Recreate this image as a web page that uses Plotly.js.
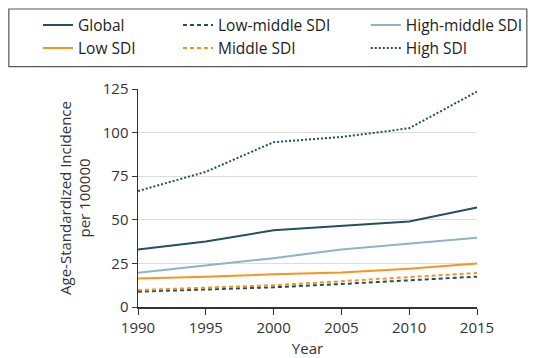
<!DOCTYPE html>
<html><head><meta charset="utf-8">
<script src="https://cdn.plot.ly/plotly-3.0.1.min.js"></script>
<style>html,body{margin:0;padding:0;background:#fff}#chart{width:537px;height:358px}</style>
</head><body><div id="chart"></div>
<script>
const years = [1990, 1995, 2000, 2005, 2010, 2015];
const seriesNames = ["Global", "Low SDI", "Low-middle SDI", "Middle SDI", "High-middle SDI", "High SDI"];
const globalVals = [33, 37.5, 44, 46.5, 49, 57];
const lowSDI = [16.4, 17.3, 18.8, 19.8, 22, 25];
const lowMiddleSDI = [8.8, 10, 11.3, 13.2, 15.5, 17.4];
const middleSDI = [9.7, 11, 12.5, 14.8, 17, 19.5];
const highMiddleSDI = [19.7, 23.7, 28, 33, 36.5, 39.7];
const highSDI = [66.5, 77.5, 94.5, 97.5, 102.5, 123.5];
const yTicks = [0, 25, 50, 75, 100, 125];

const dark = "#24505e", orange = "#f7941d", light = "#8fb3c2";
function tr(name, y, color, dash, legend) {
  return {x: years, y: y, name: name, type: "scatter", mode: "lines",
    line: {color: color, width: 2, dash: dash}, legend: legend};
}
const data = [
  tr(seriesNames[0], globalVals, dark, "solid", "legend"),
  tr(seriesNames[1], lowSDI, orange, "solid", "legend"),
  tr(seriesNames[2], lowMiddleSDI, dark, "4px,3px", "legend2"),
  tr(seriesNames[3], middleSDI, orange, "4px,3px", "legend2"),
  tr(seriesNames[4], highMiddleSDI, light, "solid", "legend3"),
  tr(seriesNames[5], highSDI, dark, "2px,2px", "legend3")
];
const font = {family: "Open Sans, Noto Sans, sans-serif", size: 14, color: "#333"};
const legBase = {orientation: "v", yanchor: "top", xanchor: "left", y: 1.37, bgcolor: "rgba(0,0,0,0)",
  font: {family: font.family, size: 15.5, color: "#222"}, tracegroupgap: 0, itemclick: false};
const layout = {
  width: 537, height: 358,
  margin: {l: 138, r: 60, t: 89, b: 51, autoexpand: false},
  paper_bgcolor: "#fff", plot_bgcolor: "#fff",
  font: font,
  showlegend: true,
  legend: Object.assign({}, legBase, {x: -0.295}),
  legend2: Object.assign({}, legBase, {x: 0.118}),
  legend3: Object.assign({}, legBase, {x: 0.672}),
  shapes: [{type: "rect", xref: "paper", yref: "paper", x0: -0.381, x1: 1.147, y0: 1.103, y1: 1.367,
    line: {color: "#555", width: 1.2}, fillcolor: "rgba(0,0,0,0)"}],
  xaxis: {range: [1990, 2015], tickvals: years, ticks: "outside", ticklen: 6, tickcolor: "#333",
    showline: true, linecolor: "#333", linewidth: 1.5, showgrid: false, zeroline: false,
    tickfont: {size: 15, color: "#333"},
    title: {text: "Year", font: {size: 15, color: "#333"}, standoff: 10}},
  yaxis: {range: [0, 125], tickvals: yTicks, ticks: "outside", ticklen: 5, tickcolor: "#333",
    showline: true, linecolor: "#333", linewidth: 1.5, showgrid: true, gridcolor: "#dcdcdc", gridwidth: 1.2,
    zeroline: false, tickfont: {size: 15, color: "#333"},
    title: {text: "Age-Standardized Incidence<br>per 100000", font: {size: 15, color: "#333"}, standoff: 8}}
};
Plotly.newPlot("chart", data, layout, {displayModeBar: false, staticPlot: true});
</script></body></html>
